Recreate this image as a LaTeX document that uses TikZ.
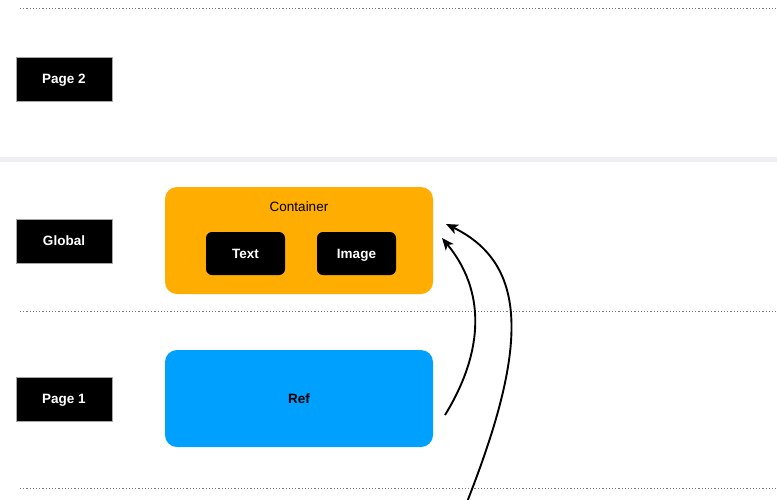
\documentclass[tikz,border=0pt]{standalone}
\usepackage{fontspec}
\setmainfont{Liberation Sans}
\usetikzlibrary{arrows.meta}
\definecolor{orangebox}{HTML}{FFAD00}
\definecolor{bluebox}{HTML}{00A0FF}
\definecolor{bandgray}{HTML}{EFEFF3}
\definecolor{dotgray}{HTML}{7A7A7A}
\tikzset{
  sep/.style={draw=dotgray, line width=1pt, dash pattern=on 1.2pt off 2pt},
  pagebox/.style={draw=gray!70, fill=black, text=white, minimum width=96pt, minimum height=44pt, inner sep=0pt, text height=9.4pt, text depth=0pt, font=\fontsize{13.5}{15}\selectfont\bfseries},
  bigbox/.style={rounded corners=12pt, minimum width=268pt, inner sep=0pt},
  smallbox/.style={fill=black, text=white, rounded corners=6pt, minimum width=79pt, minimum height=43pt, inner sep=0pt, text height=9.4pt, text depth=0pt, font=\fontsize{13.5}{15}\selectfont\bfseries},
  link/.style={-{Stealth[length=12pt,width=10pt,inset=3pt]}, line width=1.9pt, black}
}
\begin{document}
\begin{tikzpicture}[x=1pt,y=-1pt]
\useasboundingbox (0,0) rectangle (777,499);
\clip (0,0) rectangle (777,499);
\fill[white] (0,0) rectangle (777,499);
% separators
\draw[sep] (20,8) -- (777,8);
\fill[bandgray] (0,157) rectangle (777,162);
\draw[sep] (20,311) -- (777,311);
\draw[sep] (20,488) -- (777,488);
% page labels
\node[pagebox] (p2) at (64,79) {Page 2};
\node[pagebox] (gl) at (64,241) {Global};
\node[pagebox] (p1) at (64,399) {Page 1};
% container
\node[bigbox, fill=orangebox, minimum height=107pt] (cont) at (299,240.5) {};
\node[font=\fontsize{13.5}{15}\selectfont, text height=9.4pt, text depth=0pt, inner sep=0pt] (ctitle) at (299,207) {Container};
\node[smallbox] (txt) at (245.5,253.5) {Text};
\node[smallbox] (img) at (356.5,253.5) {Image};
% ref
\node[bigbox, fill=bluebox, minimum height=97pt, text height=9.4pt, text depth=0pt, font=\fontsize{13.5}{15}\selectfont\bfseries] (ref) at (299,398.5) {Ref};
% arrows
\coordinate (s1) at (445,415);
\coordinate (e1) at (442,238);
\coordinate (s2) at (467,502);
\coordinate (e2) at (446,224);
\draw[link] (s1) .. controls (485,350) and (485,290) .. (e1);
\draw[link] (s2) .. controls (527,350) and (530,265) .. (e2);
\end{tikzpicture}
\end{document}
